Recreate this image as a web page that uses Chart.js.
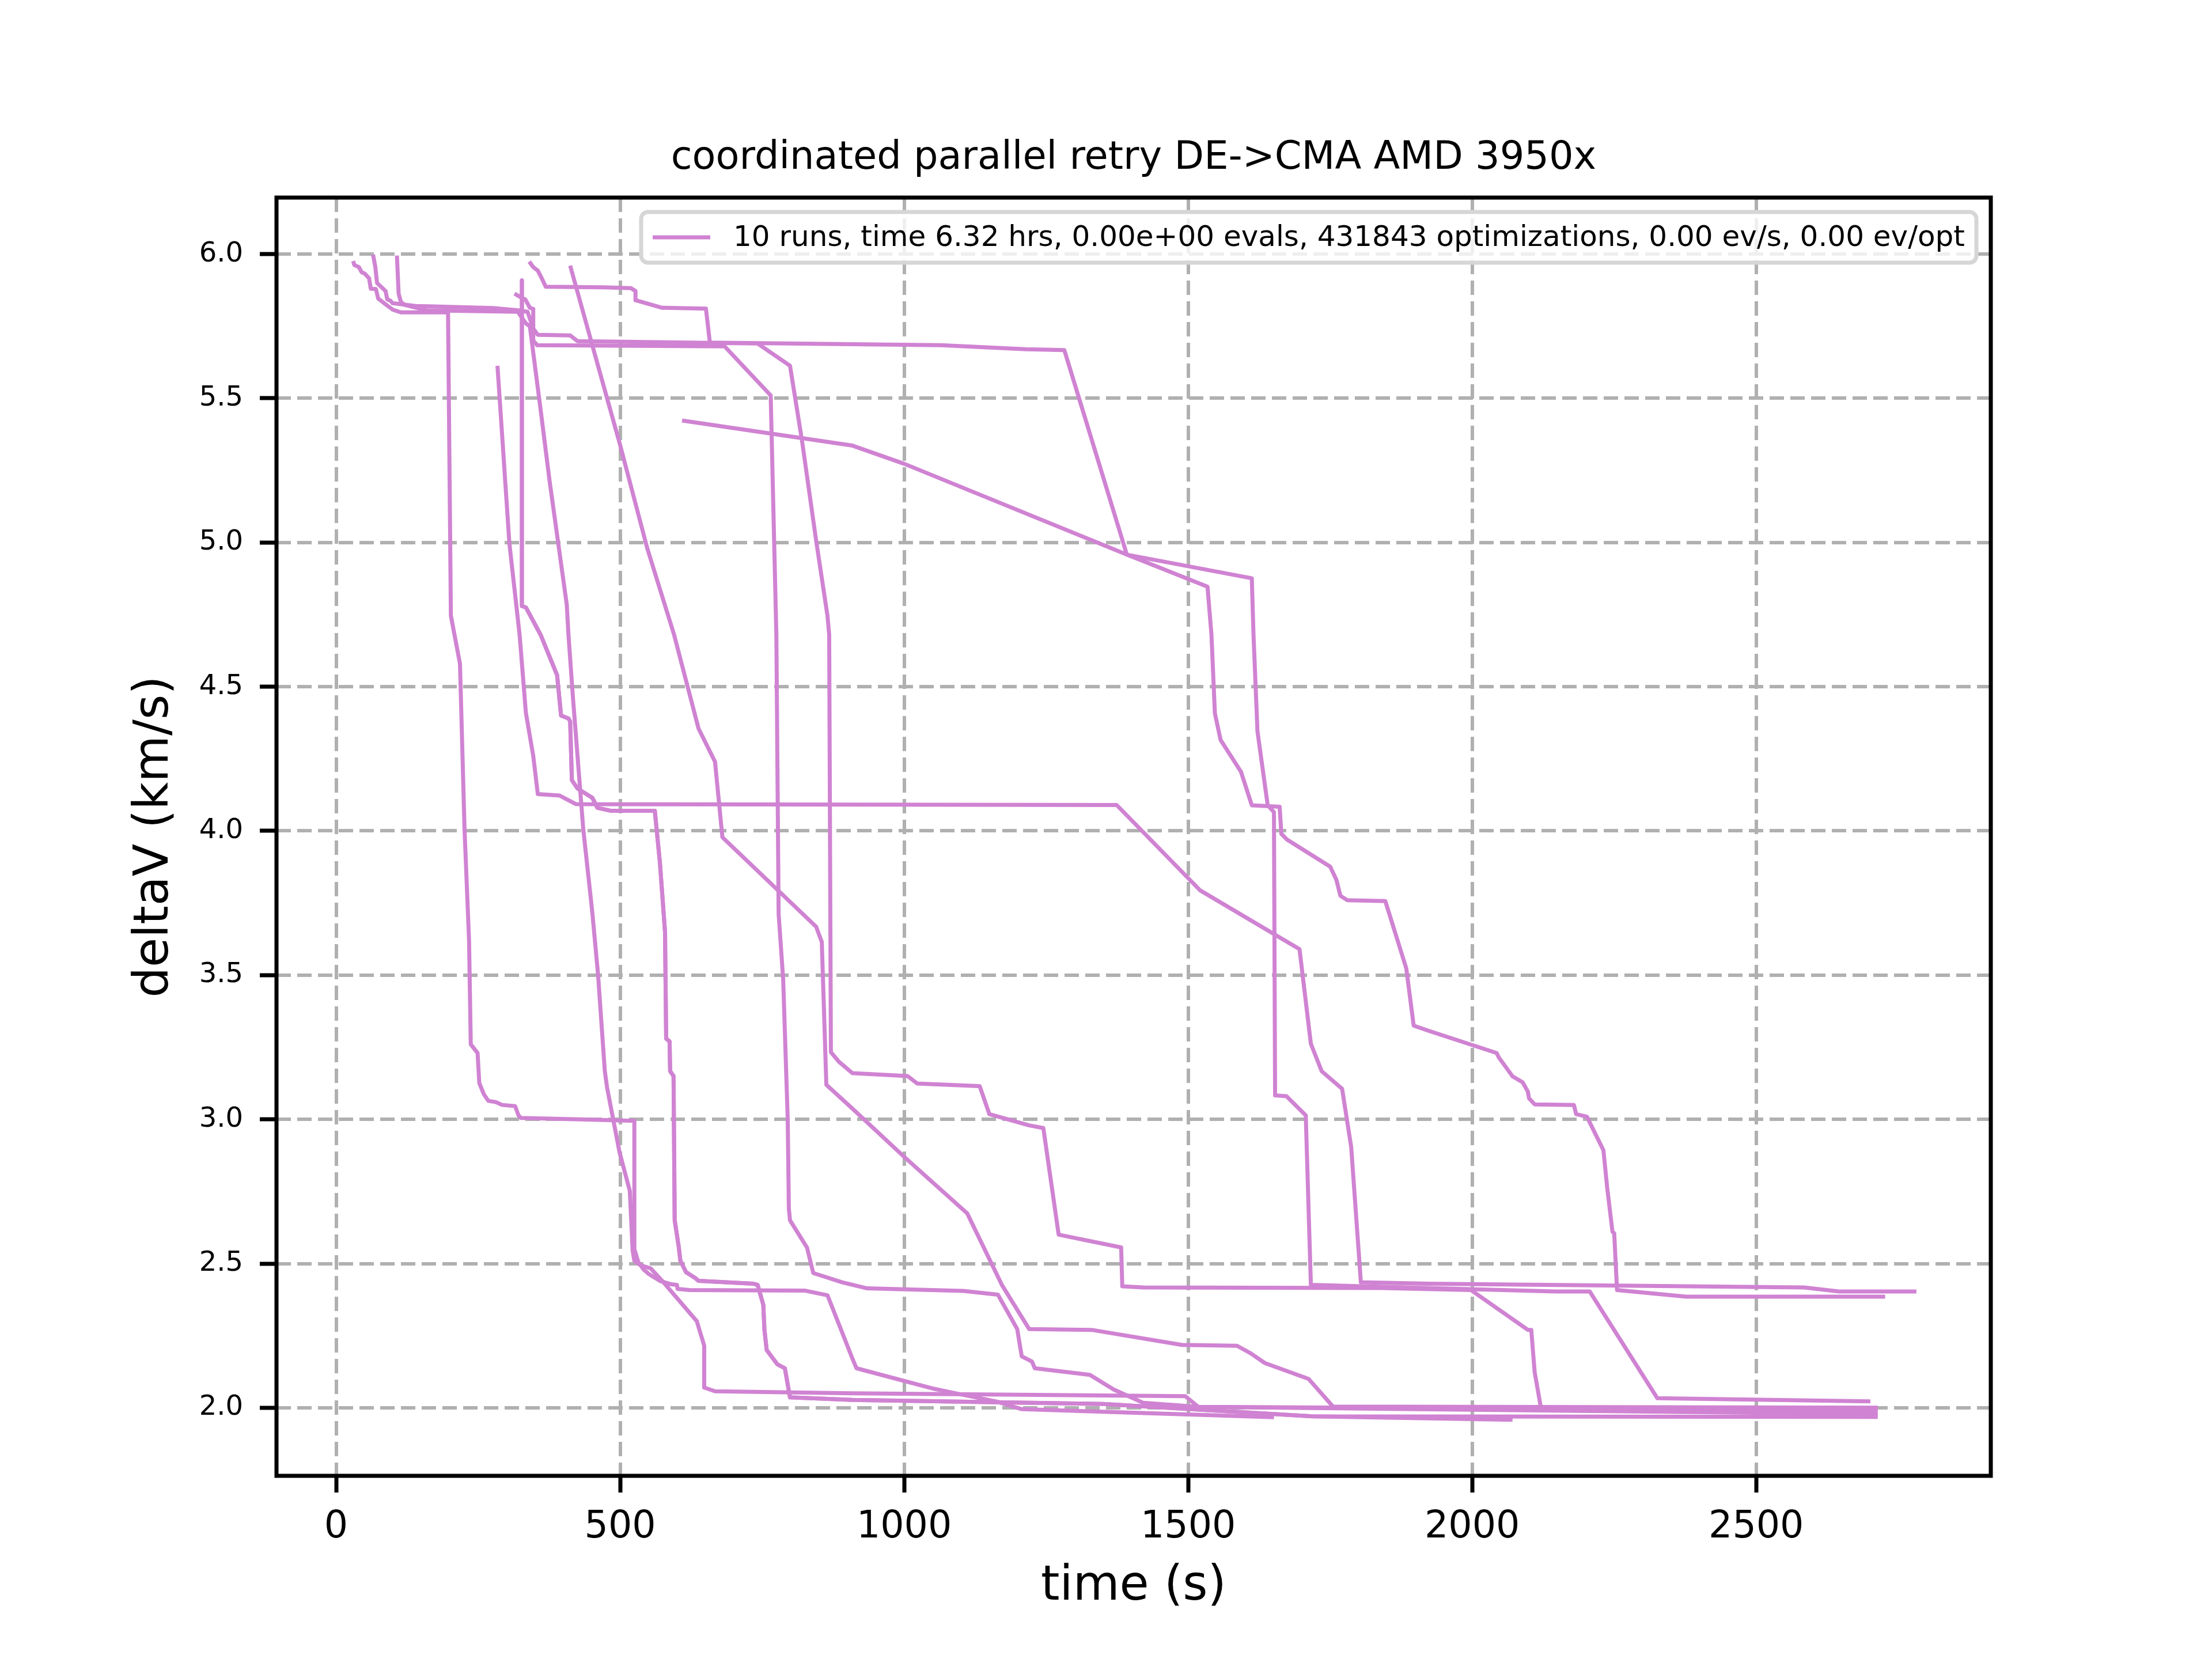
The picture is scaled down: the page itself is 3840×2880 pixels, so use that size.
<!DOCTYPE html>
<html lang="en">
<head>
    <meta charset="UTF-8">
    <title>coordinated parallel retry DE->CMA AMD 3950x</title>
    <script src="https://cdn.jsdelivr.net/npm/chart.js"></script>
    <style>
        body {
            margin: 0;
            background-color: #ffffff;
        }
        #wrap {
            width: 3840px;
            height: 2880px;
        }
    </style>
</head>
<body>
    <div id="wrap">
        <canvas id="retryChart" width="3840" height="2880"></canvas>
    </div>

    <script>
        // values: time (s) -> best deltaV (km/s) per run
        const run1Time = [30, 32, 40, 45, 50, 58, 61, 70, 74, 91, 100, 114, 197, 202, 218, 226, 234, 237, 249, 252, 260, 268, 281, 292, 315, 321, 325, 431, 525, 525, 532, 541, 551, 570, 590, 600, 601, 622, 826, 865, 909, 916, 1052, 1091, 1162, 1207, 1651];
        const run1DeltaV = [5.976, 5.962, 5.955, 5.937, 5.933, 5.916, 5.88, 5.879, 5.846, 5.82, 5.807, 5.798, 5.798, 4.746, 4.58, 4.007, 3.62, 3.26, 3.23, 3.126, 3.087, 3.064, 3.06, 3.05, 3.046, 3.014, 3.005, 3.0, 2.995, 2.55, 2.505, 2.48, 2.463, 2.44, 2.428, 2.426, 2.412, 2.408, 2.406, 2.39, 2.17, 2.137, 2.066, 2.05, 2.022, 1.995, 1.967];

        const run2Time = [65, 69, 72, 79, 87, 90, 96, 99, 140, 163, 276, 321, 337, 347, 355, 412, 425, 742, 799, 820, 845, 865, 868, 871, 885, 909, 1006, 1023, 1133, 1150, 1220, 1245, 1272, 1382, 1384, 1421, 1840, 1998, 2098, 2104, 2110, 2121, 2714];
        const run2DeltaV = [5.998, 5.955, 5.90, 5.887, 5.872, 5.843, 5.838, 5.83, 5.82, 5.819, 5.813, 5.805, 5.80, 5.742, 5.72, 5.718, 5.698, 5.69, 5.613, 5.355, 5.007, 4.746, 4.68, 3.233, 3.2, 3.16, 3.15, 3.124, 3.115, 3.018, 2.979, 2.97, 2.60, 2.556, 2.421, 2.417, 2.415, 2.408, 2.27, 2.27, 2.123, 2.0, 1.998];

        const run3Time = [107, 110, 114, 121, 160, 320, 325, 334, 341, 360, 376, 406, 409, 417, 435, 451, 461, 473, 477, 499, 517, 522, 525, 535, 554, 574, 635, 648, 648, 667, 909, 1495, 1518, 2714];
        const run3DeltaV = [5.995, 5.863, 5.834, 5.824, 5.805, 5.80, 5.785, 5.76, 5.75, 5.46, 5.21, 4.785, 4.68, 4.46, 4.007, 3.717, 3.504, 3.167, 3.11, 2.885, 2.752, 2.545, 2.509, 2.495, 2.483, 2.44, 2.30, 2.215, 2.07, 2.057, 2.05, 2.04, 2.003, 1.978];

        const run4Time = [284, 305, 323, 334, 347, 355, 393, 422, 1374, 1521, 1696, 1716, 1735, 1771, 1787, 1804, 1925, 2584, 2646, 2782];
        const run4DeltaV = [5.613, 4.997, 4.68, 4.41, 4.26, 4.128, 4.123, 4.093, 4.09, 3.794, 3.59, 3.262, 3.167, 3.106, 2.904, 2.435, 2.43, 2.417, 2.403, 2.403];

        const run5Time = [314, 327, 333, 341, 347, 347, 354, 684, 765, 775, 779, 787, 795, 797, 799, 829, 840, 891, 935, 1104, 1165, 1199, 1207, 1225, 1230, 1327, 1369, 1395, 1421, 1518, 2714];
        const run5DeltaV = [5.863, 5.848, 5.843, 5.814, 5.81, 5.70, 5.684, 5.68, 5.51, 4.68, 3.712, 3.485, 3.0, 2.69, 2.65, 2.555, 2.467, 2.435, 2.414, 2.405, 2.392, 2.273, 2.178, 2.16, 2.137, 2.114, 2.063, 2.04, 2.017, 2.003, 1.99];

        const run6Time = [327, 327, 334, 360, 389, 396, 409, 412, 415, 425, 451, 460, 483, 561, 570, 579, 581, 587, 588, 594, 596, 603, 606, 616, 632, 638, 735, 742, 752, 754, 758, 777, 790, 799, 909, 1350, 1719, 2714];
        const run6DeltaV = [5.909, 4.78, 4.775, 4.68, 4.54, 4.40, 4.39, 4.38, 4.176, 4.147, 4.115, 4.08, 4.07, 4.07, 3.89, 3.65, 3.28, 3.27, 3.167, 3.15, 2.65, 2.56, 2.51, 2.47, 2.45, 2.44, 2.43, 2.426, 2.357, 2.27, 2.2, 2.15, 2.137, 2.036, 2.027, 2.013, 1.97, 1.968];

        const run7Time = [340, 347, 355, 362, 369, 470, 519, 527, 527, 574, 651, 658, 1065, 1214, 1282, 1392, 1612, 1615, 1622, 1640, 1651, 1653, 1673, 1707, 1716, 2147, 2207, 2326, 2701];
        const run7DeltaV = [5.974, 5.955, 5.943, 5.916, 5.887, 5.885, 5.882, 5.872, 5.84, 5.814, 5.811, 5.693, 5.684, 5.67, 5.667, 4.958, 4.876, 4.68, 4.345, 4.089, 4.065, 3.083, 3.08, 3.014, 2.426, 2.403, 2.403, 2.033, 2.022];

        const run8Time = [412, 477, 499, 548, 595, 638, 667, 680, 845, 855, 863, 909, 1000, 1111, 1172, 1220, 1330, 1489, 1586, 1609, 1635, 1712, 1755, 2714];
        const run8DeltaV = [5.96, 5.5, 5.345, 4.978, 4.68, 4.355, 4.24, 3.978, 3.668, 3.615, 3.12, 3.037, 2.87, 2.674, 2.426, 2.273, 2.27, 2.218, 2.215, 2.19, 2.155, 2.1, 2.004, 2.0];

        const run9Time = [609, 909, 1000, 1392, 1534, 1541, 1547, 1557, 1593, 1612, 1661, 1664, 1674, 1750, 1761, 1768, 1780, 1847, 1884, 1897, 1925, 2043, 2047, 2056, 2071, 2089, 2098, 2100, 2110, 2179, 2183, 2202, 2231, 2238, 2247, 2250, 2255, 2377, 2727];
        const run9DeltaV = [5.423, 5.336, 5.273, 4.958, 4.847, 4.68, 4.408, 4.316, 4.205, 4.089, 4.084, 3.99, 3.97, 3.876, 3.83, 3.775, 3.76, 3.757, 3.523, 3.325, 3.306, 3.23, 3.214, 3.19, 3.149, 3.128, 3.096, 3.073, 3.052, 3.05, 3.018, 3.009, 2.893, 2.757, 2.61, 2.605, 2.408, 2.385, 2.385];

        // the tenth run hides under run 6 until it stops at ~2070 s
        const run10Time = [327, 327, 334, 360, 389, 396, 409, 412, 415, 425, 451, 460, 483, 561, 570, 579, 581, 587, 588, 594, 596, 603, 606, 616, 632, 638, 735, 742, 752, 754, 758, 777, 790, 799, 909, 1350, 1719, 2071];
        const run10DeltaV = [5.909, 4.78, 4.775, 4.68, 4.54, 4.40, 4.39, 4.38, 4.176, 4.147, 4.115, 4.08, 4.07, 4.07, 3.89, 3.65, 3.28, 3.27, 3.167, 3.15, 2.65, 2.56, 2.51, 2.47, 2.45, 2.44, 2.43, 2.426, 2.357, 2.27, 2.2, 2.15, 2.137, 2.036, 2.027, 2.013, 1.97, 1.958];

        const xTickValues = [0, 500, 1000, 1500, 2000, 2500];
        const yTickValues = [2.0, 2.5, 3.0, 3.5, 4.0, 4.5, 5.0, 5.5, 6.0];

        const runs = [
            [run1Time, run1DeltaV], [run2Time, run2DeltaV], [run3Time, run3DeltaV],
            [run4Time, run4DeltaV], [run5Time, run5DeltaV], [run6Time, run6DeltaV],
            [run7Time, run7DeltaV], [run8Time, run8DeltaV], [run9Time, run9DeltaV],
            [run10Time, run10DeltaV]
        ];

        const titleText = 'coordinated parallel retry DE->CMA AMD 3950x';
        const legendText = '10 runs, time 6.32 hrs, 0.00e+00 evals, 431843 optimizations, 0.00 ev/s, 0.00 ev/opt';
        const lineColor = '#d083d2';
        const fontName = '"DejaVu Sans"';

        // spines, title, axis titles and the legend box, drawn like matplotlib does
        const framePlugin = {
            id: 'frame',
            afterDraw(chart) {
                const ctx = chart.ctx;
                const a = chart.chartArea;
                const midX = (a.left + a.right) / 2;
                const midY = (a.top + a.bottom) / 2;
                ctx.save();

                ctx.strokeStyle = '#000000';
                ctx.lineWidth = 7;
                ctx.strokeRect(a.left, a.top, a.right - a.left, a.bottom - a.top);

                // legend
                const boxL = 1113, boxR = 3431, boxT = 368, boxB = 456, r = 12;
                ctx.beginPath();
                ctx.moveTo(boxL + r, boxT);
                ctx.arcTo(boxR, boxT, boxR, boxB, r);
                ctx.arcTo(boxR, boxB, boxL, boxB, r);
                ctx.arcTo(boxL, boxB, boxL, boxT, r);
                ctx.arcTo(boxL, boxT, boxR, boxT, r);
                ctx.closePath();
                ctx.fillStyle = 'rgba(255,255,255,0.8)';
                ctx.fill();
                ctx.strokeStyle = '#d6d6d6';
                ctx.lineWidth = 7;
                ctx.stroke();

                const legY = (boxT + boxB) / 2;
                ctx.strokeStyle = lineColor;
                ctx.lineWidth = 7;
                ctx.beginPath();
                ctx.moveTo(1133, legY);
                ctx.lineTo(1233, legY);
                ctx.stroke();

                ctx.fillStyle = '#000000';
                ctx.font = '50px ' + fontName;
                ctx.textAlign = 'left';
                ctx.textBaseline = 'middle';
                ctx.fillText(legendText, 1273, legY + 2);

                // title
                ctx.font = '67px ' + fontName;
                ctx.textAlign = 'center';
                ctx.textBaseline = 'alphabetic';
                ctx.fillText(titleText, midX, a.top - 50);

                // axis titles
                ctx.font = '83px ' + fontName;
                ctx.textBaseline = 'middle';
                ctx.fillText('time (s)', midX, 2755);

                ctx.translate(269, midY);
                ctx.rotate(-Math.PI / 2);
                ctx.fillText('deltaV (km/s)', 0, 0);

                ctx.restore();
            }
        };

        new Chart(document.getElementById('retryChart'), {
            type: 'line',
            data: {
                datasets: runs.map((run, i) => ({
                    label: 'run ' + (i + 1),
                    data: run[0].map((t, j) => ({ x: t, y: run[1][j] })),
                    borderColor: lineColor,
                    backgroundColor: lineColor,
                    borderWidth: 7,
                    borderJoinStyle: 'round',
                    pointRadius: 0,
                    tension: 0,
                    fill: false
                }))
            },
            options: {
                responsive: false,
                animation: false,
                devicePixelRatio: 1,
                layout: {
                    autoPadding: false,
                    padding: { left: 0, top: 343, right: 384, bottom: 0 }
                },
                plugins: {
                    legend: { display: false },
                    title: { display: false },
                    tooltip: { enabled: false }
                },
                scales: {
                    x: {
                        type: 'linear',
                        min: -105,
                        max: 2913,
                        afterBuildTicks: (s) => { s.ticks = xTickValues.map(v => ({ value: v })); },
                        afterFit: (s) => { s.height = 318; },
                        grid: {
                            color: '#b0b0b0',
                            lineWidth: 6,
                            tickLength: 29,
                            tickColor: '#000000',
                            tickWidth: 7
                        },
                        border: { display: false, dash: [25, 11] },
                        ticks: {
                            color: '#000000',
                            font: { family: 'DejaVu Sans', size: 65 },
                            padding: 22,
                            maxRotation: 0,
                            autoSkip: false,
                            callback: (v) => String(v)
                        }
                    },
                    y: {
                        type: 'linear',
                        min: 1.764,
                        max: 6.196,
                        afterBuildTicks: (s) => { s.ticks = yTickValues.map(v => ({ value: v })); },
                        afterFit: (s) => { s.width = 480; },
                        grid: {
                            color: '#b0b0b0',
                            lineWidth: 6,
                            tickLength: 29,
                            tickColor: '#000000',
                            tickWidth: 7
                        },
                        border: { display: false, dash: [25, 11] },
                        ticks: {
                            color: '#000000',
                            font: { family: 'DejaVu Sans', size: 48 },
                            padding: 29,
                            autoSkip: false,
                            callback: (v) => Number(v).toFixed(1)
                        }
                    }
                }
            },
            plugins: [framePlugin]
        });
    </script>
</body>
</html>
